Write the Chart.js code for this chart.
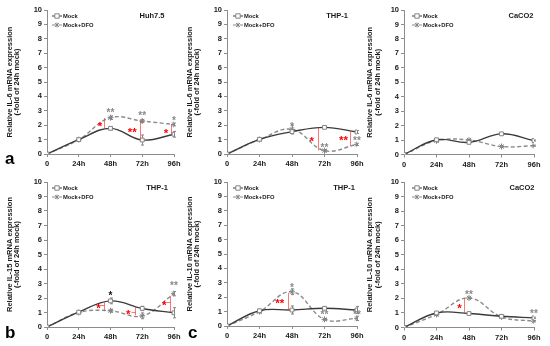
<!DOCTYPE html>
<html lang="en">
<head>
<meta charset="UTF-8">
<title>Relative cytokine mRNA expression</title>
<script src="https://cdn.jsdelivr.net/npm/chart.js@4.4.1/dist/chart.umd.min.js"></script>
<style>
    body {
        margin: 0;
        background: #ffffff;
        width: 550px;
        height: 346px;
        overflow: hidden;
        position: relative;
    }
    canvas { position: absolute; }
</style>
</head>
<body>
<canvas id="pa" width="190" height="172"></canvas>
<canvas id="pb" width="190" height="172"></canvas>
<canvas id="pc" width="190" height="172"></canvas>
<canvas id="pd" width="190" height="174"></canvas>
<canvas id="pe" width="190" height="174"></canvas>
<canvas id="pf" width="190" height="174"></canvas>
<script>
const hours = [0, 24, 48, 72, 96];
const hourLabels = ['0', '24h', '48h', '72h', '96h'];
const seriesNames = ['Mock', 'Mock+DFO'];

// a - IL-6, Huh7.5
const il6HuhMock = [0, 1.0, 1.78, 0.97, 1.37];
const il6HuhMockErr = [0, 0.03, 0.1, 0.35, 0.2];
const il6HuhDfo = [0, 1.0, 2.52, 2.29, 2.05];
const il6HuhDfoErr = [0, 0.03, 0.12, 0.1, 0.1];
const il6HuhStars = [[48, 3.05, '**'], [72, 2.85, '**'], [96, 2.5, '*']];
const il6HuhRedStars = [[40, 2.13, '*'], [64.5, 1.7, '**'], [90, 1.67, '*']];
const il6HuhBrackets = [[43, 2.5, 1.75], [70, 2.32, 1.02], [94, 2.08, 1.36]];

// IL-6, THP-1
const il6ThpMock = [0, 1.02, 1.55, 1.85, 1.53];
const il6ThpMockErr = [0, 0.03, 0.15, 0.08, 0.1];
const il6ThpDfo = [0, 1.0, 1.71, 0.23, 0.67];
const il6ThpDfoErr = [0, 0.03, 0.3, 0.08, 0.08];
const il6ThpStars = [[48, 2.08, '*'], [72, 0.62, '**'], [96, 1.1, '**']];
const il6ThpRedStars = [[62.5, 1.09, '*'], [86, 1.13, '**']];
const il6ThpBrackets = [[67, 1.85, 0.25], [91, 1.6, 0.57]];

// IL-6, CaCO2
const il6CacoMock = [0, 1.02, 0.84, 1.43, 0.97];
const il6CacoMockErr = [0, 0.04, 0.04, 0.04, 0.04];
const il6CacoDfo = [0, 0.95, 1.0, 0.55, 0.61];
const il6CacoDfoErr = [0, 0.08, 0.04, 0.04, 0.04];

// b - IL-15, THP-1
const il15ThpMock = [0, 1.02, 1.8, 1.28, 0.98];
const il15ThpMockErr = [0, 0.03, 0.2, 0.15, 0.35];
const il15ThpDfo = [0, 1.0, 1.12, 0.77, 2.3];
const il15ThpDfoErr = [0, 0.03, 0.1, 0.2, 0.15];
const il15ThpStars = [[96, 3.0, '**']];
const il15ThpDarkStars = [[48, 2.3, '*']];
const il15ThpRedStars = [[39, 1.5, '*'], [61.5, 1.05, '*'], [88.7, 1.69, '*']];
const il15ThpBrackets = [[43, 1.72, 1.12, 1.5], [66.8, 1.42, 0.8, 1.05], [93, 2.12, 1.0, 1.69]];

// c - IL-10, THP-1
const il10ThpMock = [0, 1.06, 1.11, 1.23, 1.11];
const il10ThpMockErr = [0, 0.05, 0.28, 0.05, 0.25];
const il10ThpDfo = [0, 1.0, 2.38, 0.46, 0.53];
const il10ThpDfoErr = [0, 0.1, 0.2, 0.05, 0.15];
const il10ThpStars = [[48, 2.85, '*'], [72, 0.92, '**'], [96, 0.92, '**']];
const il10ThpRedStars = [[39, 1.76, '**']];
const il10ThpBrackets = [[44.8, 2.3, 1.11]];

// IL-10, CaCO2
const il10CacoMock = [0, 1.0, 0.96, 0.77, 0.66];
const il10CacoMockErr = [0, 0.05, 0.05, 0.05, 0.05];
const il10CacoDfo = [0, 0.9, 2.03, 0.73, 0.43];
const il10CacoDfoErr = [0, 0.1, 0.05, 0.05, 0.05];
const il10CacoStars = [[48, 2.42, '**'], [96, 1.12, '**']];
const il10CacoRedStars = [[40.9, 1.5, '*']];
const il10CacoBrackets = [[44.5, 2.0, 1.0]];

const FONT = "'Liberation Sans', Arial, sans-serif";
Chart.defaults.font.family = FONT;
Chart.defaults.color = '#1a1a1a';

const axisGray = '#8c8c8c';
const mockLine = '#3a3a3a';
const dfoLine = '#8a8a8a';
const markerGray = '#858585';
const bracketRed = 'rgba(240, 50, 50, 0.65)';

const fold = '(-fold of 24h mock)';
const panels = [
    { id: 'pa', left: 0, top: 0, yW: 47, padR: 16, xH: 18, titlePad: 6,
      yTitle: ['Relative IL-6 mRNA expression', fold], cell: 'Huh7.5', cellOff: 22, legX: 5,
      letter: 'a', letterXY: [5, 164],
      mock: il6HuhMock, mockErr: il6HuhMockErr, dfo: il6HuhDfo, dfoErr: il6HuhDfoErr,
      stars: il6HuhStars, redStars: il6HuhRedStars, brackets: il6HuhBrackets },
    { id: 'pb', left: 180, top: 0, yW: 47, padR: 13, xH: 18, titlePad: 6,
      yTitle: ['Relative IL-6 mRNA expression', fold], cell: 'THP-1', cellOff: 20, legX: 6,
      mock: il6ThpMock, mockErr: il6ThpMockErr, dfo: il6ThpDfo, dfoErr: il6ThpDfoErr,
      stars: il6ThpStars, redStars: il6ThpRedStars, brackets: il6ThpBrackets },
    { id: 'pc', left: 360, top: 0, yW: 44, padR: 16, xH: 17.5, titlePad: 6.25,
      yTitle: ['Relative IL-6 mRNA expression', fold], cell: 'CaCO2', cellOff: 13, legX: 8,
      mock: il6CacoMock, mockErr: il6CacoMockErr, dfo: il6CacoDfo, dfoErr: il6CacoDfoErr },
    { id: 'pd', left: 0, top: 172, yW: 47, padR: 16, xH: 19, titlePad: 6,
      yTitle: ['Relative IL-15 mRNA expression', fold], cell: 'THP-1', cellOff: 17, legX: 5,
      letter: 'b', letterXY: [5, 166],
      mock: il15ThpMock, mockErr: il15ThpMockErr, dfo: il15ThpDfo, dfoErr: il15ThpDfoErr,
      stars: il15ThpStars, darkStars: il15ThpDarkStars, redStars: il15ThpRedStars, brackets: il15ThpBrackets },
    { id: 'pe', left: 180, top: 172, yW: 47, padR: 13, xH: 20, titlePad: 6,
      yTitle: ['Relative IL-10 mRNA expression', fold], cell: 'THP-1', cellOff: 13, legX: 6,
      letter: 'c', letterXY: [8, 165.5],
      mock: il10ThpMock, mockErr: il10ThpMockErr, dfo: il10ThpDfo, dfoErr: il10ThpDfoErr,
      stars: il10ThpStars, redStars: il10ThpRedStars, brackets: il10ThpBrackets },
    { id: 'pf', left: 360, top: 172, yW: 44, padR: 16, xH: 18.5, titlePad: 6.25,
      yTitle: ['Relative IL-10 mRNA expression', fold], cell: 'CaCO2', cellOff: 12, legX: 8,
      mock: il10CacoMock, mockErr: il10CacoMockErr, dfo: il10CacoDfo, dfoErr: il10CacoDfoErr,
      stars: il10CacoStars, redStars: il10CacoRedStars, brackets: il10CacoBrackets }
];
const panelById = {};
panels.forEach(p => { panelById[p.id] = p; });

function drawMarker(ctx, style, x, y, r) {
    ctx.save();
    ctx.lineWidth = 1;
    ctx.strokeStyle = markerGray;
    ctx.beginPath();
    if (style === 'rect') {
        ctx.fillStyle = '#ffffff';
        ctx.rect(x - r, y - r, 2 * r, 2 * r);
        ctx.fill();
    } else {
        const d = r * 0.8;
        ctx.moveTo(x - d, y - d); ctx.lineTo(x + d, y + d);
        ctx.moveTo(x - d, y + d); ctx.lineTo(x + d, y - d);
        ctx.moveTo(x, y - r); ctx.lineTo(x, y + r);
    }
    ctx.stroke();
    ctx.restore();
}

// asterisk glyph sits high in the em box: shift baseline so its middle lands on y
function drawStars(ctx, chart, list, color, size) {
    if (!list) return;
    ctx.save();
    ctx.fillStyle = color;
    ctx.font = 'bold ' + size + 'px ' + FONT;
    ctx.textAlign = 'center';
    ctx.textBaseline = 'alphabetic';
    list.forEach(s => {
        const x = chart.scales.x.getPixelForValue(s[0]);
        const y = chart.scales.y.getPixelForValue(s[1]);
        ctx.fillText(s[2], x, y + size * 0.57);
    });
    ctx.restore();
}

const panelDeco = {
    id: 'panelDeco',
    beforeDatasetsDraw(chart) {
        const {ctx} = chart;
        const xs = chart.scales.x, ys = chart.scales.y;
        chart.data.datasets.forEach(ds => {
            if (!ds.errors) return;
            ctx.save();
            ctx.strokeStyle = markerGray;
            ctx.lineWidth = 1;
            ds.data.forEach((p, i) => {
                const e = ds.errors[i];
                if (!e) return;
                const x = Math.round(xs.getPixelForValue(p.x)) + 0.5;
                const y1 = ys.getPixelForValue(p.y + e);
                const y2 = ys.getPixelForValue(p.y - e);
                ctx.beginPath();
                ctx.moveTo(x, y1); ctx.lineTo(x, y2);
                ctx.moveTo(x - 1.5, y1); ctx.lineTo(x + 1.5, y1);
                ctx.moveTo(x - 1.5, y2); ctx.lineTo(x + 1.5, y2);
                ctx.stroke();
            });
            ctx.restore();
        });
    },
    afterDatasetsDraw(chart) {
        const p = panelById[chart.canvas.id];
        const {ctx} = chart;
        const xs = chart.scales.x, ys = chart.scales.y;
        if (p.brackets) {
            ctx.save();
            ctx.strokeStyle = bracketRed;
            ctx.lineWidth = 1;
            p.brackets.forEach(b => {
                const x = Math.round(xs.getPixelForValue(b[0])) + 0.5;
                ctx.beginPath();
                ctx.moveTo(x, ys.getPixelForValue(b[1]));
                ctx.lineTo(x, ys.getPixelForValue(b[2]));
                if (b.length > 3) {
                    const ty = Math.round(ys.getPixelForValue(b[3])) + 0.5;
                    ctx.moveTo(x, ty); ctx.lineTo(x - 4, ty);
                }
                ctx.stroke();
            });
            ctx.restore();
        }
        drawStars(ctx, chart, p.stars, '#8a8a8a', 10);
        drawStars(ctx, chart, p.darkStars, '#111111', 10);
        drawStars(ctx, chart, p.redStars, '#ff0000', 11.5);
    },
    afterDraw(chart) {
        const p = panelById[chart.canvas.id];
        const {ctx, chartArea} = chart;
        ctx.save();
        // legend inside the plot
        chart.data.datasets.forEach((ds, i) => {
            const y = chartArea.top + 6 + i * 9;
            const x0 = chartArea.left + p.legX;
            ctx.save();
            ctx.strokeStyle = ds.borderColor;
            ctx.lineWidth = 1;
            ctx.setLineDash(ds.borderDash || []);
            ctx.beginPath();
            ctx.moveTo(x0, y); ctx.lineTo(x0 + 10, y);
            ctx.stroke();
            ctx.restore();
            drawMarker(ctx, ds.pointStyle, x0 + 5, y, ds.pointStyle === 'rect' ? 2.2 : 2.4);
            ctx.fillStyle = '#1a1a1a';
            ctx.font = 'bold 5.8px ' + FONT;
            ctx.textAlign = 'left';
            ctx.textBaseline = 'middle';
            ctx.fillText(ds.label, x0 + 11, y);
        });
        // cell line label
        ctx.font = 'bold 7.5px ' + FONT;
        ctx.textAlign = 'center';
        ctx.textBaseline = 'middle';
        ctx.fillStyle = '#1a1a1a';
        ctx.fillText(p.cell, chartArea.right - p.cellOff, chartArea.top + 6);
        // panel letter
        if (p.letter) {
            ctx.font = 'bold 17px ' + FONT;
            ctx.textAlign = 'left';
            ctx.textBaseline = 'alphabetic';
            ctx.fillStyle = '#000000';
            ctx.fillText(p.letter, p.letterXY[0], p.letterXY[1]);
        }
        ctx.restore();
    }
};

function points(vals) {
    return hours.map((h, i) => ({x: h, y: vals[i]}));
}

panels.forEach(p => {
    const canvas = document.getElementById(p.id);
    canvas.style.left = p.left + 'px';
    canvas.style.top = p.top + 'px';

    new Chart(canvas, {
        type: 'line',
        data: {
            datasets: [
                {
                    label: seriesNames[0],
                    data: points(p.mock),
                    errors: p.mockErr,
                    borderColor: mockLine,
                    borderWidth: 1.4,
                    tension: 0.4,
                    pointStyle: 'rect',
                    pointRadius: 2.7,
                    pointBackgroundColor: '#ffffff',
                    pointBorderColor: markerGray,
                    pointBorderWidth: 1
                },
                {
                    label: seriesNames[1],
                    data: points(p.dfo),
                    errors: p.dfoErr,
                    borderColor: dfoLine,
                    borderDash: [4, 2.5],
                    borderWidth: 1.4,
                    tension: 0.4,
                    pointStyle: 'star',
                    pointRadius: 3,
                    pointBorderColor: markerGray,
                    pointBorderWidth: 1
                }
            ]
        },
        options: {
            responsive: false,
            animation: false,
            events: [],
            layout: { padding: { top: 10, right: p.padR, bottom: 0, left: 0 } },
            plugins: {
                legend: { display: false },
                tooltip: { enabled: false }
            },
            scales: {
                x: {
                    type: 'linear',
                    min: 0,
                    max: 96,
                    afterBuildTicks: s => { s.ticks = hours.map(v => ({value: v})); },
                    afterFit: s => { s.height = p.xH; },
                    ticks: {
                        callback: v => hourLabels[hours.indexOf(v)],
                        font: { size: 7.5, weight: 'bold' },
                        color: '#1a1a1a',
                        padding: 2.5,
                        maxRotation: 0
                    },
                    grid: { drawOnChartArea: false, tickLength: 3, color: axisGray },
                    border: { color: axisGray, width: 1 }
                },
                y: {
                    min: 0,
                    max: 10,
                    afterFit: s => { s.width = p.yW; },
                    ticks: {
                        stepSize: 1,
                        font: { size: 7.5, weight: 'bold' },
                        color: '#1a1a1a',
                        padding: 2
                    },
                    grid: { drawOnChartArea: false, tickLength: 3, color: axisGray },
                    border: { color: axisGray, width: 1 },
                    title: {
                        display: true,
                        text: p.yTitle,
                        color: '#1a1a1a',
                        font: { size: 7.5, weight: 'bold', lineHeight: 1 },
                        padding: { top: p.titlePad, bottom: 0 }
                    }
                }
            }
        },
        plugins: [panelDeco]
    });
});
</script>
</body>
</html>
